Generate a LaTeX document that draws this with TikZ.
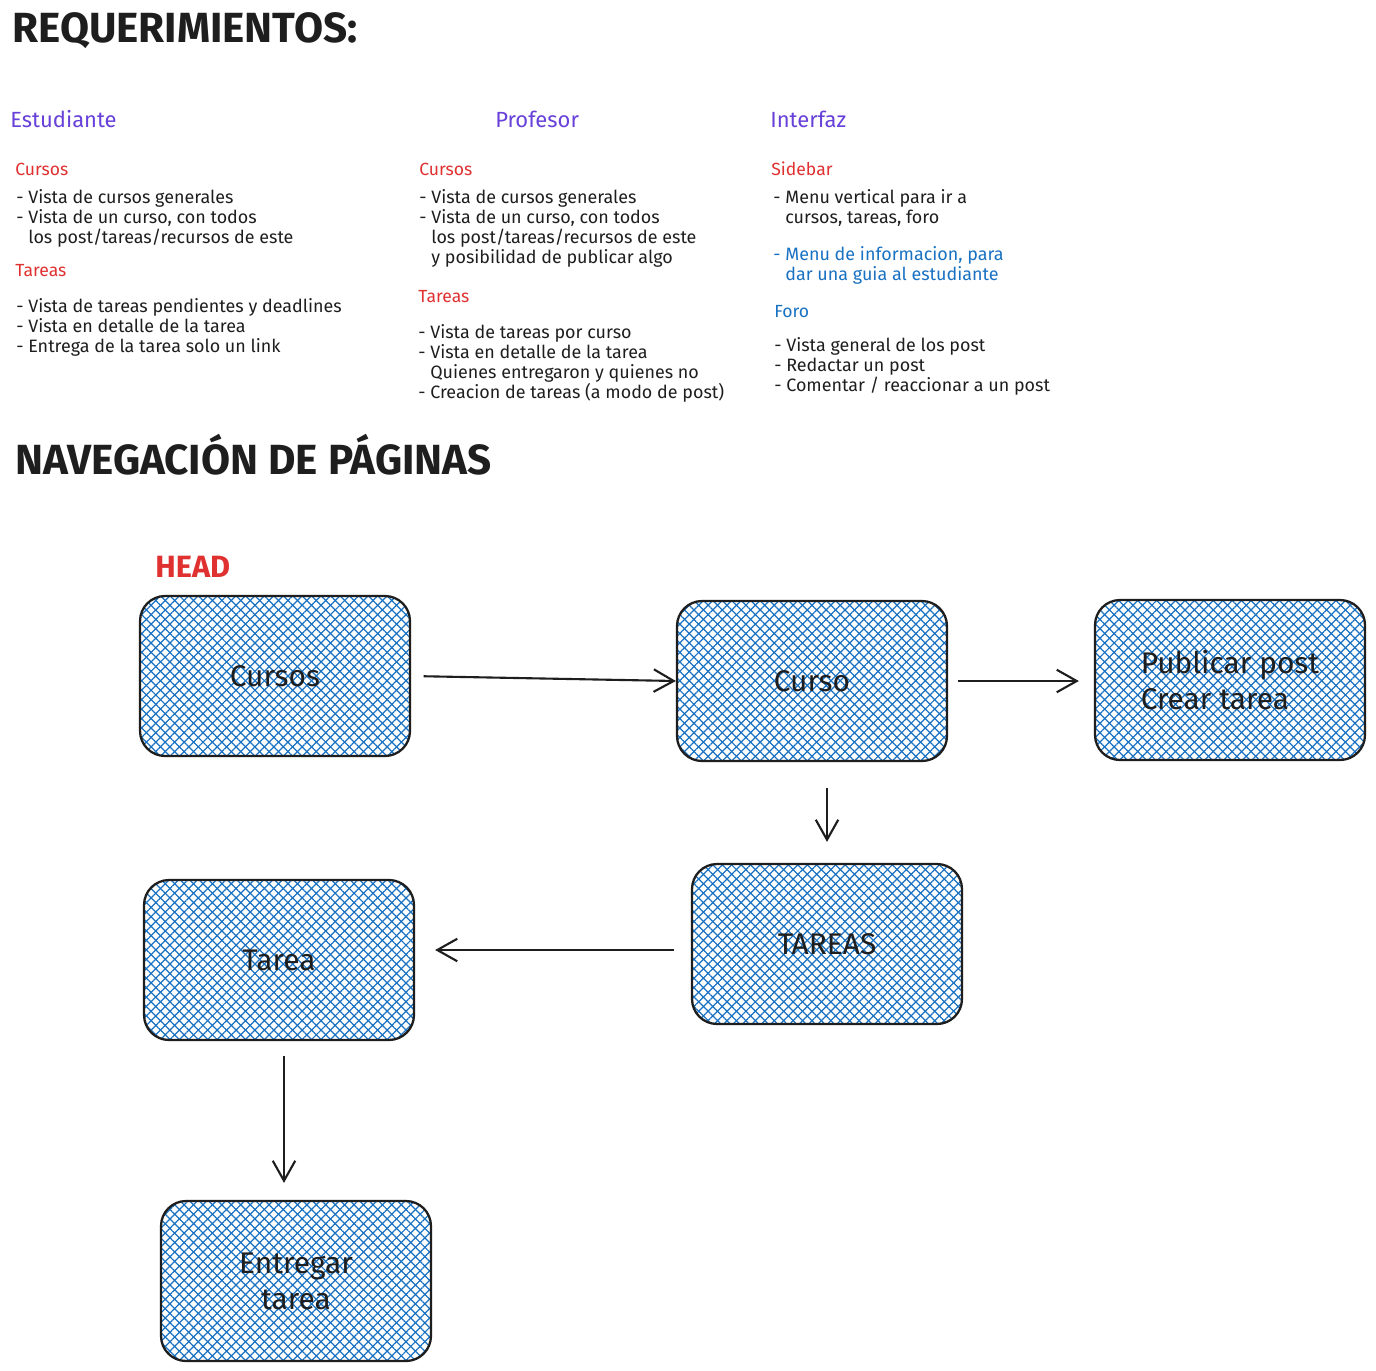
\documentclass[tikz,border=0pt]{standalone}
\usepackage{fontspec}
\setmainfont{Fira Sans}
\usepackage{xcolor}
\usetikzlibrary{arrows.meta}
\usetikzlibrary{patterns.meta}
\usetikzlibrary{positioning,calc}
\definecolor{morado}{RGB}{103,65,217}
\definecolor{rojo}{RGB}{224,49,49}
\definecolor{azul}{RGB}{25,113,194}
\definecolor{tinta}{RGB}{30,30,30}
\newcommand{\guion}{\hphantom{- }}

\begin{document}
\begin{tikzpicture}[
x=0.02cm, y=-0.02cm,
Titulo/.style={anchor=base west, inner sep=0pt, font=\fontsize{24}{28}\selectfont\bfseries, text=tinta},
Rol/.style={anchor=base west, inner sep=0pt, font=\fontsize{12.5}{15}\selectfont, text=morado},
Seccion/.style={anchor=base west, inner sep=0pt, font=\fontsize{10}{11.34}\selectfont, text=rojo},
Lista/.style={anchor=base west, inner sep=0pt, align=left, font=\fontsize{10.2}{11.34}\selectfont, text=tinta},
Pagina/.style={draw=tinta, line width=1.3pt, rounded corners=0.5cm,
  minimum width=5.4cm, minimum height=3.2cm, align=center,
  font=\fontsize{17}{20.4}\selectfont, text=tinta,
  preaction={pattern={Lines[angle=45,distance=3.8pt,line width=0.7pt]}, pattern color=azul},
  pattern={Lines[angle=-45,distance=3.8pt,line width=0.7pt]}, pattern color=azul},
Flecha/.style={-{Straight Barb[length=4mm,width=4.5mm]}, line width=1.2pt, draw=tinta}
]
\fill[white] (0,0) rectangle (1376,1370);
\useasboundingbox (0,0) rectangle (1376,1370);

% requerimientos (listas: base = ultima linea)
\node[Titulo] (requerimientos) at (12,42) {REQUERIMIENTOS:};

\node[Rol] (estudiante) at (10,127) {Estudiante};
\node[Rol] (profesor) at (495,127) {Profesor};
\node[Rol] (interfaz) at (770,127) {Interfaz};

\node[Seccion] (estCursos) at (15,175) {Cursos};
\node[Lista] (estCursosLista) at (16,243) {- Vista de cursos generales\\- Vista de un curso, con todos\\\guion los post/tareas/recursos de este};
\node[Seccion] (estTareas) at (15,276) {Tareas};
\node[Lista] (estTareasLista) at (16,352) {- Vista de tareas pendientes y deadlines\\- Vista en detalle de la tarea\\- Entrega de la tarea solo un link};

\node[Seccion] (profCursos) at (419,175) {Cursos};
\node[Lista] (profCursosLista) at (419,263) {- Vista de cursos generales\\- Vista de un curso, con todos\\\guion los post/tareas/recursos de este\\\guion y posibilidad de publicar algo};
\node[Seccion] (profTareas) at (418,302) {Tareas};
\node[Lista] (profTareasLista) at (418,398) {- Vista de tareas por curso\\- Vista en detalle de la tarea\\\guion Quienes entregaron y quienes no\\- Creacion de tareas (a modo de post)};

\node[Seccion] (sidebar) at (771,175) {Sidebar};
\node[Lista] (sidebarLista) at (773,223) {- Menu vertical para ir a\\\guion cursos, tareas, foro};
\node[Lista, text=azul] (sidebarInfo) at (773,280) {- Menu de informacion, para\\\guion dar una guia al estudiante};
\node[Seccion, text=azul] (foro) at (774,317) {Foro};
\node[Lista] (foroLista) at (774,391) {- Vista general de los post\\- Redactar un post\\- Comentar / reaccionar a un post};

% navegacion
\node[Titulo] (navegacion) at (15,474) {NAVEGACI\'ON DE P\'AGINAS};
\node[Titulo, font=\fontsize{17.5}{20}\selectfont\bfseries, text=rojo] (head) at (155,577) {HEAD};

\node[Pagina] (cursos) at (275,676) {Cursos};
\node[Pagina] (curso) at (812,681) {Curso};
\node[Pagina, align=left] (publicar) at (1230,680) {Publicar post\\Crear tarea};
\node[Pagina] (tareas) at (827,944) {TAREAS};
\node[Pagina] (tarea) at (279,960) {Tarea};
\node[Pagina] (entregar) at (296,1281) {Entregar\\tarea};

\draw[Flecha, shorten <=0.26cm] (cursos.east) -- (curso.west);
\draw[Flecha, shorten <=0.2cm, shorten >=0.3cm] (curso.east) -- (curso.east -| publicar.west);
\draw[Flecha, shorten <=0.52cm, shorten >=0.42cm] (curso.south -| tareas.north) -- (tareas.north);
\draw[Flecha, shorten <=0.34cm, shorten >=0.4cm] ([yshift=-0.12cm]tareas.west) -- ([yshift=-0.12cm]tareas.west -| tarea.east);
\draw[Flecha, shorten <=0.3cm, shorten >=0.34cm] ([xshift=0.1cm]tarea.south) -- ([xshift=0.1cm]tarea.south |- entregar.north);

\end{tikzpicture}
\end{document}
